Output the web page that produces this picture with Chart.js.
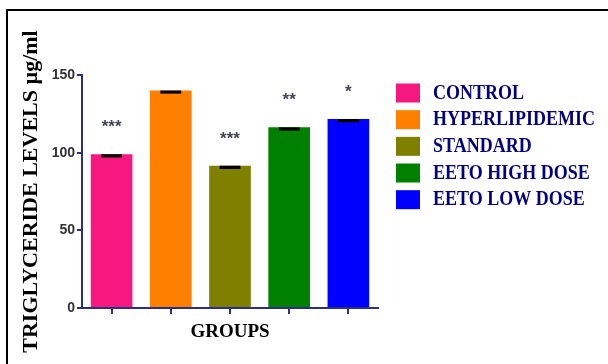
<!DOCTYPE html>
<html>
<head>
<meta charset="utf-8">
<script src="https://cdn.jsdelivr.net/npm/chart.js@4"></script>
<style>
  html, body { margin: 0; padding: 0; background: #ffffff; }
  #wrap { width: 608px; height: 364px; position: relative; }
</style>
</head>
<body>
<div id="wrap"><canvas id="c" width="608" height="364"></canvas></div>
<script>
// Treatment groups and mean serum triglyceride levels (µg/ml)
const groups = ['CONTROL', 'HYPERLIPIDEMIC', 'STANDARD', 'EETO HIGH DOSE', 'EETO LOW DOSE'];
const triglyceride = [99, 140, 91.6, 116.3, 121.7];
const sem = [2.1, 2.0, 2.1, 2.1, 2.1];
const significance = ['***', '', '***', '**', '*'];
const yTicks = [0, 50, 100, 150];
const barColors = ['#F6177F', '#FF8000', '#808000', '#008000', '#0000FF'];

const AXIS = '#2D2F85';

// White page with the black frame along the top and left edges
const framePlugin = {
  id: 'frame',
  beforeDraw(chart) {
    const ctx = chart.ctx;
    ctx.save();
    ctx.fillStyle = '#ffffff';
    ctx.fillRect(0, 0, chart.width, chart.height);
    ctx.strokeStyle = '#000000';
    ctx.lineWidth = 2;
    ctx.beginPath();
    ctx.moveTo(7, chart.height);
    ctx.lineTo(7, 10);
    ctx.lineTo(chart.width, 10);
    ctx.stroke();
    ctx.restore();
  }
};

// SEM caps and significance stars on each bar
const barMarksPlugin = {
  id: 'barMarks',
  afterDatasetsDraw(chart) {
    const ctx = chart.ctx;
    const y = chart.scales.y;
    const bars = chart.getDatasetMeta(0).data;
    ctx.save();
    bars.forEach((bar, i) => {
      const v = triglyceride[i];
      const top = y.getPixelForValue(v);
      const low = y.getPixelForValue(v - sem[i]);
      const capW = bar.width * 0.5;
      ctx.fillStyle = '#000000';
      ctx.fillRect(bar.x - capW / 2, top, capW, low - top);
      if (significance[i]) {
        ctx.fillStyle = '#45455A';
        ctx.font = 'bold 17px "Liberation Sans", Arial, sans-serif';
        ctx.textAlign = 'center';
        ctx.textBaseline = 'alphabetic';
        ctx.fillText(significance[i], bar.x, top - 22);
      }
    });
    ctx.restore();
  }
};

// Group key to the right of the plot (tall, narrow bold serif lettering)
const keyPlugin = {
  id: 'groupKey',
  afterDraw(chart) {
    const ctx = chart.ctx;
    const stretch = 1.2;
    ctx.save();
    groups.forEach((g, i) => {
      const cy = 93 + i * 26.67;
      ctx.fillStyle = barColors[i];
      ctx.fillRect(396, cy - 9.5, 24, 19);
      ctx.save();
      ctx.translate(433, cy);
      ctx.scale(1, stretch);
      ctx.fillStyle = '#000080';
      ctx.font = 'bold 18px "Liberation Serif", "Times New Roman", serif';
      ctx.textAlign = 'left';
      ctx.textBaseline = 'middle';
      ctx.fillText(g, 0, 0);
      ctx.restore();
    });
    ctx.restore();
  }
};

new Chart(document.getElementById('c'), {
  type: 'bar',
  data: {
    labels: groups,
    datasets: [{
      data: triglyceride,
      backgroundColor: barColors,
      borderWidth: 0,
      barPercentage: 0.704,
      categoryPercentage: 1.0
    }]
  },
  options: {
    responsive: false,
    animation: false,
    devicePixelRatio: 1,
    layout: { padding: { left: 18, top: 75, right: 230, bottom: 0 } },
    plugins: {
      legend: { display: false },
      tooltip: { enabled: false }
    },
    scales: {
      x: {
        offset: true,
        afterFit(s) { s.height = 56; },
        grid: {
          offset: false,
          drawOnChartArea: false,
          drawTicks: true,
          tickLength: 6,
          color: AXIS,
          lineWidth: 2
        },
        border: { display: true, color: AXIS, width: 2 },
        ticks: { display: false },
        title: {
          display: true,
          text: 'GROUPS',
          color: '#000000',
          font: { family: '"Liberation Serif", "Times New Roman", serif', size: 19, weight: 'bold' },
          padding: { top: 0, bottom: 21 }
        }
      },
      y: {
        min: 0,
        max: 150,
        afterFit(s) { s.width = 64; },
        afterBuildTicks(s) { s.ticks = yTicks.map(v => ({ value: v })); },
        grid: {
          drawOnChartArea: false,
          drawTicks: true,
          tickLength: 5,
          color: AXIS,
          lineWidth: 2
        },
        border: { display: true, color: AXIS, width: 2 },
        ticks: {
          color: '#333333',
          padding: 2,
          font: { family: '"Liberation Sans", Arial, sans-serif', size: 14, weight: 'bold' }
        },
        title: {
          display: true,
          text: 'TRIGLYCERIDE LEVELS µg/ml',
          color: '#000000',
          font: { family: '"Liberation Serif", "Times New Roman", serif', size: 22, weight: 'bold' },
          padding: { top: 0, bottom: 0 }
        }
      }
    }
  },
  plugins: [framePlugin, barMarksPlugin, keyPlugin]
});
</script>
</body>
</html>
